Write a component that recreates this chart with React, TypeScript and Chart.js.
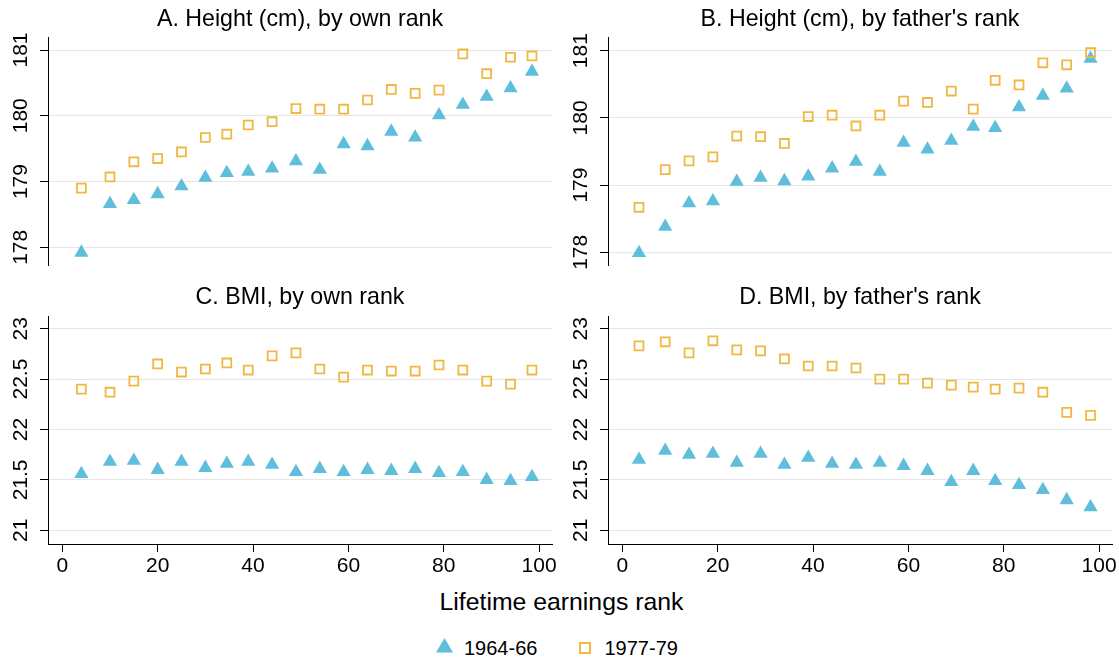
import React, { useEffect, useRef } from "react";
import { Chart, registerables } from "chart.js";

Chart.register(...registerables);

// ---------- data ----------
const ownRank = [4, 10, 15, 20, 25, 30, 34.5, 39, 44, 49, 54, 59, 64, 69, 74, 79, 84, 89, 94, 98.5];
const fatherRank = [3.5, 9, 14, 19, 24, 29, 34, 39, 44, 49, 54, 59, 64, 69, 73.6, 78.2, 83.2, 88.2, 93.2, 98.2];

const heightOwn6466 = [177.92, 178.66, 178.72, 178.81, 178.93, 179.06, 179.13, 179.15, 179.2, 179.31, 179.18, 179.57, 179.54, 179.76, 179.67, 180.01, 180.17, 180.29, 180.42, 180.67];
const heightOwn7779 = [178.9, 179.07, 179.3, 179.35, 179.45, 179.67, 179.72, 179.86, 179.91, 180.11, 180.1, 180.1, 180.24, 180.4, 180.34, 180.39, 180.94, 180.64, 180.89, 180.91];

const heightFather6466 = [177.99, 178.38, 178.73, 178.76, 179.05, 179.11, 179.06, 179.13, 179.25, 179.35, 179.2, 179.63, 179.53, 179.66, 179.87, 179.85, 180.16, 180.33, 180.44, 180.88];
const heightFather7779 = [178.67, 179.23, 179.36, 179.42, 179.73, 179.72, 179.62, 180.02, 180.04, 179.88, 180.04, 180.25, 180.23, 180.4, 180.13, 180.56, 180.49, 180.82, 180.79, 180.97];

const bmiOwn6466 = [21.56, 21.68, 21.69, 21.6, 21.68, 21.62, 21.66, 21.68, 21.65, 21.58, 21.61, 21.58, 21.6, 21.59, 21.61, 21.57, 21.58, 21.5, 21.49, 21.53];
const bmiOwn7779 = [22.4, 22.37, 22.48, 22.65, 22.57, 22.6, 22.66, 22.59, 22.73, 22.76, 22.6, 22.52, 22.59, 22.58, 22.58, 22.64, 22.59, 22.48, 22.45, 22.59];

const bmiFather6466 = [21.7, 21.79, 21.75, 21.76, 21.67, 21.76, 21.65, 21.72, 21.66, 21.65, 21.67, 21.64, 21.59, 21.48, 21.59, 21.49, 21.45, 21.4, 21.3, 21.23];
const bmiFather7779 = [22.83, 22.87, 22.76, 22.88, 22.79, 22.78, 22.7, 22.63, 22.63, 22.61, 22.5, 22.5, 22.46, 22.44, 22.42, 22.4, 22.41, 22.37, 22.17, 22.14];

const heightTicks = [178, 179, 180, 181];
const bmiTicks = [21, 21.5, 22, 22.5, 23];
const xTicks = [0, 20, 40, 60, 80, 100];

const cohortLabels = ["1964-66", "1977-79"];
const panelTitles = [
  "A. Height (cm), by own rank",
  "B. Height (cm), by father's rank",
  "C. BMI, by own rank",
  "D. BMI, by father's rank",
];
const xAxisTitle = "Lifetime earnings rank";

// ---------- styles ----------
const FONT = "'Liberation Sans', Arial, Helvetica, sans-serif";
const BLUE = "#5FBEDC";
const GOLD = "#F0B843";
const GRID = "#E6E6E6";

type PanelProps = {
  left: number;
  top: number;
  width: number;
  height: number;
  xs: number[];
  tri: number[];
  sq: number[];
  yTicks: number[];
  yMin: number;
  yMax: number;
  showX: boolean;
  padRight: number;
  padTop: number;
  labelPad: number;
};

function Panel(p: PanelProps) {
  const ref = useRef<HTMLCanvasElement>(null);
  useEffect(() => {
    const chart = new Chart(ref.current as HTMLCanvasElement, {
      type: "scatter",
      data: {
        datasets: [
          {
            label: cohortLabels[1],
            data: p.xs.map((v, i) => ({ x: v, y: p.sq[i] })),
            pointStyle: "rect",
            pointRadius: 6.3,
            pointBorderWidth: 1.8,
            pointBorderColor: GOLD,
            pointBackgroundColor: "rgba(0,0,0,0)",
            showLine: false,
          },
          {
            label: cohortLabels[0],
            data: p.xs.map((v, i) => ({ x: v, y: p.tri[i] })),
            pointStyle: "triangle",
            pointRadius: 8.2,
            pointBorderWidth: 0,
            pointBorderColor: BLUE,
            pointBackgroundColor: BLUE,
            showLine: false,
          },
        ],
      },
      options: {
        animation: false,
        responsive: false,
        devicePixelRatio: 1,
        events: [],
        layout: {
          autoPadding: false,
          padding: { left: 0, right: p.padRight, top: p.padTop, bottom: p.showX ? 0 : 15 },
        },
        plugins: {
          legend: { display: false },
          tooltip: { enabled: false },
          title: { display: false },
        },
        scales: {
          x: {
            type: "linear",
            min: -3,
            max: 102.7,
            display: p.showX,
            afterBuildTicks: (s: any) => {
              s.ticks = xTicks.map((v) => ({ value: v }));
            },
            afterFit: (s: any) => {
              if (p.showX) s.height = 36;
            },
            grid: {
              display: true,
              drawOnChartArea: false,
              drawTicks: true,
              tickLength: 8,
              tickColor: "#000",
              color: "#000",
              lineWidth: 1,
            },
            border: { display: true, color: "#000", width: 1 },
            ticks: {
              font: { family: FONT, size: 21 },
              color: "#000",
              padding: 1.7,
              autoSkip: false,
              minRotation: 0,
              maxRotation: 0,
              callback: (v: any) => String(v),
            },
          },
          y: {
            type: "linear",
            min: p.yMin,
            max: p.yMax,
            afterBuildTicks: (s: any) => {
              s.ticks = p.yTicks.map((v) => ({ value: v }));
            },
            afterFit: (s: any) => {
              s.width = 48;
            },
            grid: {
              color: GRID,
              lineWidth: 1,
              drawTicks: true,
              tickLength: 8,
              tickColor: "#000",
            },
            border: { display: true, color: "#000", width: 1 },
            ticks: {
              font: { family: FONT, size: 21 },
              color: "#000",
              minRotation: 90,
              maxRotation: 90,
              crossAlign: "center",
              padding: p.labelPad,
              autoSkip: false,
              callback: (v: any) => String(v),
            },
          },
        },
      } as any,
    });
    return () => chart.destroy();
  }, []);
  return (
    <canvas
      ref={ref}
      width={p.width}
      height={p.height}
      style={{ position: "absolute", left: p.left, top: p.top, width: p.width, height: p.height }}
    />
  );
}

const titleStyle = (left: number, top: number): React.CSSProperties => ({
  position: "absolute",
  left,
  top,
  width: 504,
  textAlign: "center",
  fontFamily: FONT,
  fontSize: 23.2,
  lineHeight: "27px",
  color: "#000",
  whiteSpace: "nowrap",
});

const legendText = (left: number): React.CSSProperties => ({
  position: "absolute",
  left,
  top: 638.3,
  fontFamily: FONT,
  fontSize: 20,
  lineHeight: "20px",
  color: "#000",
  whiteSpace: "nowrap",
});

export default function App() {
  return (
    <div
      style={{
        position: "fixed",
        left: 0,
        top: 0,
        width: 1119,
        height: 660,
        background: "#fff",
        overflow: "hidden",
      }}
    >
      <Panel left={0} top={0} width={560} height={280} xs={ownRank} tri={heightOwn6466} sq={heightOwn7779}
        yTicks={heightTicks} yMin={177.731} yMax={181.198} showX={false} padRight={8} padTop={37} labelPad={0.8} />
      <Panel left={560} top={0} width={559} height={280} xs={fatherRank} tri={heightFather6466} sq={heightFather7779}
        yTicks={heightTicks} yMin={177.811} yMax={181.204} showX={false} padRight={7} padTop={37} labelPad={0.8} />
      <Panel left={0} top={280} width={560} height={300} xs={ownRank} tri={bmiOwn6466} sq={bmiOwn7779}
        yTicks={bmiTicks} yMin={20.864} yMax={23.126} showX={true} padRight={8} padTop={36} labelPad={-1.2} />
      <Panel left={560} top={280} width={559} height={300} xs={fatherRank} tri={bmiFather6466} sq={bmiFather7779}
        yTicks={bmiTicks} yMin={20.864} yMax={23.126} showX={true} padRight={7} padTop={36} labelPad={-1.2} />

      <div style={titleStyle(48, 4.5)}>{panelTitles[0]}</div>
      <div style={titleStyle(608, 4.5)}>{panelTitles[1]}</div>
      <div style={titleStyle(48, 282.5)}>{panelTitles[2]}</div>
      <div style={titleStyle(608, 282.5)}>{panelTitles[3]}</div>

      <div
        style={{
          position: "absolute",
          left: 2,
          top: 589.5,
          width: 1119,
          textAlign: "center",
          fontFamily: FONT,
          fontSize: 24.8,
          lineHeight: "24px",
          color: "#000",
        }}
      >
        {xAxisTitle}
      </div>

      <svg style={{ position: "absolute", left: 436, top: 638 }} width={17} height={15}>
        <polygon points="8.5,0 17,14.5 0,14.5" fill={BLUE} />
      </svg>
      <div style={legendText(464)}>{cohortLabels[0]}</div>
      <svg style={{ position: "absolute", left: 579, top: 641.5 }} width={12} height={12}>
        <rect x={1} y={1} width={10} height={10} fill="none" stroke={GOLD} strokeWidth={2} />
      </svg>
      <div style={legendText(604.5)}>{cohortLabels[1]}</div>
    </div>
  );
}
